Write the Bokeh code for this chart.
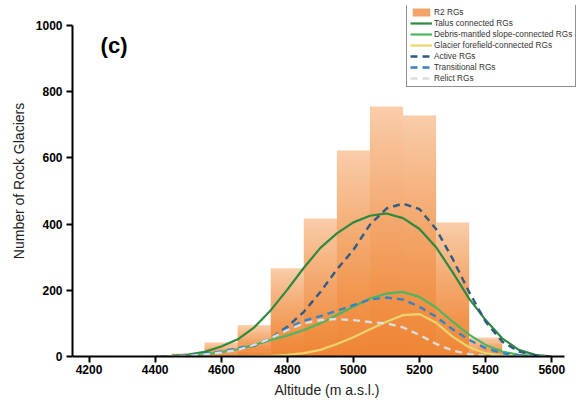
from bokeh.plotting import figure
from bokeh.models import (ColumnDataSource, Range1d, FixedTicker, Legend, LegendItem, Label)
from bokeh.embed import file_html
from bokeh.resources import INLINE

# ---- data ----
bin_left = [4450, 4550, 4650, 4750, 4850, 4950, 5050, 5150, 5250, 5350]
bin_right = [4550, 4650, 4750, 4850, 4950, 5050, 5150, 5250, 5350, 5450]
r2_counts = [8, 42, 94, 266, 417, 622, 755, 728, 405, 57]

altitude = [4400, 4450, 4500, 4550, 4600, 4650, 4700, 4750, 4800, 4850, 4900, 4950,
            5000, 5050, 5100, 5150, 5200, 5250, 5300, 5350, 5400, 5450, 5500, 5550, 5600]
talus = [0, 2, 6, 14, 30, 52, 88, 140, 202, 268, 328, 372, 405, 425, 432, 418, 385, 330, 255, 175, 110, 55, 20, 5, 0]
debris = [0, 1, 3, 7, 13, 22, 35, 50, 63, 80, 100, 125, 150, 175, 190, 195, 180, 148, 105, 66, 35, 15, 5, 1, 0]
glacier = [0, 0, 0, 0, 0, 0, 1, 2, 5, 10, 20, 38, 58, 82, 105, 125, 128, 102, 60, 28, 10, 3, 0, 0, 0]
active = [0, 1, 3, 8, 14, 22, 33, 55, 90, 135, 195, 263, 322, 398, 447, 462, 445, 385, 295, 195, 105, 45, 15, 3, 0]
transitional = [0, 1, 3, 8, 15, 25, 35, 55, 85, 108, 122, 138, 155, 172, 178, 172, 150, 120, 82, 50, 25, 10, 3, 1, 0]
relict = [0, 1, 2, 6, 12, 20, 35, 55, 80, 100, 110, 113, 110, 104, 100, 88, 65, 38, 18, 7, 2, 0, 0, 0, 0]

x_ticks = [4200, 4400, 4600, 4800, 5000, 5200, 5400, 5600]
y_ticks = [0, 200, 400, 600, 800, 1000]

FONT = "Liberation Sans"

p = figure(width=581, height=412, x_range=Range1d(4150, 5690), y_range=Range1d(0, 1060),
           output_backend="svg", toolbar_location=None,
           min_border_left=72, min_border_right=0, min_border_top=5, min_border_bottom=56)
p.outline_line_color = None
p.xgrid.visible = False
p.ygrid.visible = False
p.background_fill_color = "white"

# ---- histogram bars with vertical gradient ----
N = 40
top_c = (249, 205, 170)
bot_c = (239, 133, 52)
L, R, B, T, C = [], [], [], [], []
for l, r, c in zip(bin_left, bin_right, r2_counts):
    for k in range(N):
        f0 = k / N
        f1 = min(1.0, (k + 1.8) / N)
        t = ((k + 0.5) / N) ** 1.2
        col = tuple(int(round(bot_c[j] + (top_c[j] - bot_c[j]) * t)) for j in range(3))
        L.append(l); R.append(r); B.append(c * f0); T.append(c * f1)
        C.append("#%02x%02x%02x" % col)
src = ColumnDataSource(dict(left=L, right=R, bottom=B, top=T, color=C))
bars = p.quad(left="left", right="right", bottom="bottom", top="top", source=src,
              fill_color="color", line_color=None)

# ---- curves ----
dash = "7 5"
r_talus = p.line(altitude, talus, line_color="#2b8a3e", line_width=2.2)
r_debris = p.line(altitude, debris, line_color="#4cb560", line_width=2.2)
r_glacier = p.line(altitude, glacier, line_color="#ead46c", line_width=2.2)
r_active = p.line(altitude, active, line_color="#2e5b84", line_width=2.4, line_dash=dash)
r_trans = p.line(altitude, transitional, line_color="#3583c4", line_width=2.4, line_dash=dash)
r_relict = p.line(altitude, relict, line_color="#d9dee0", line_width=2.4, line_dash=dash)

# ---- axes ----
for ax in (p.xaxis[0], p.yaxis[0]):
    ax.axis_line_width = 2
    ax.axis_line_color = "black"
    ax.major_tick_line_width = 2
    ax.major_tick_line_color = "black"
    ax.major_tick_out = 6
    ax.major_tick_in = 0
    ax.minor_tick_line_color = None
    ax.major_label_text_font = FONT
    ax.major_label_text_font_style = "bold"
    ax.major_label_text_font_size = "12px"
    ax.major_label_text_color = "black"
    ax.axis_label_text_font = FONT
    ax.axis_label_text_font_style = "normal"
    ax.axis_label_text_font_size = "14px"
    ax.axis_label_text_color = "#222222"

p.xaxis.ticker = FixedTicker(ticks=x_ticks)
p.yaxis.ticker = FixedTicker(ticks=y_ticks)
p.xaxis.bounds = (4150, 5640)
p.yaxis.bounds = (0, 1000)
p.xaxis.axis_label = "Altitude (m a.s.l.)"
p.yaxis.axis_label = "Number of Rock Glaciers"
p.xaxis.major_label_standoff = 2
p.yaxis.major_label_standoff = 4
p.xaxis.axis_label_standoff = 5
p.yaxis.axis_label_standoff = 6

# ---- panel label ----
p.add_layout(Label(x=4235, y=940, text="(c)", text_font=FONT, text_font_style="bold",
                   text_font_size="22px", text_baseline="middle", text_color="black"))

# ---- legend ----
items = [
    LegendItem(label="R2 RGs", renderers=[bars], index=20),
    LegendItem(label="Talus connected RGs", renderers=[r_talus]),
    LegendItem(label="Debris-mantled slope-connected RGs", renderers=[r_debris]),
    LegendItem(label="Glacier forefield-connected RGs", renderers=[r_glacier]),
    LegendItem(label="Active RGs", renderers=[r_active]),
    LegendItem(label="Transitional RGs", renderers=[r_trans]),
    LegendItem(label="Relict RGs", renderers=[r_relict]),
]
legend = Legend(items=items, location=(334, 269), margin=0, padding=3, spacing=1,
                label_height=10, glyph_height=10, glyph_width=22, label_standoff=2,
                label_text_font=FONT, label_text_font_size="8.3px", label_text_color="#333333",
                border_line_color="#222222", border_line_width=1,
                background_fill_color="white", background_fill_alpha=1)
p.add_layout(legend)

open("out.html", "w").write(file_html(p, INLINE))
